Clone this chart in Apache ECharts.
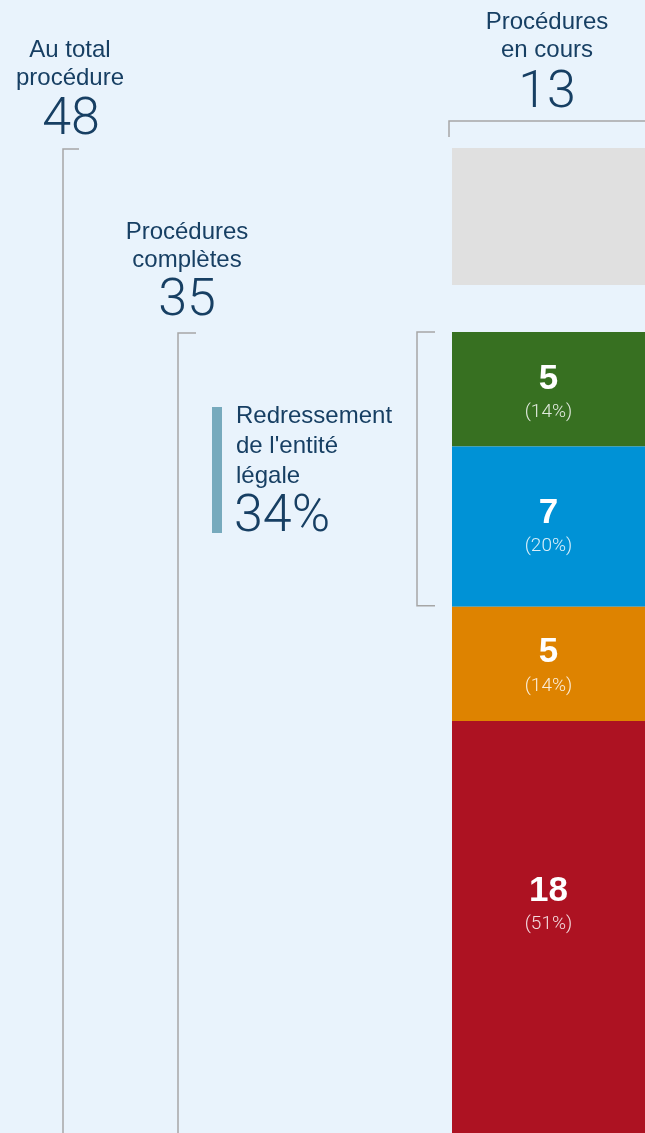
<!DOCTYPE html>
<html>
<head>
<meta charset="utf-8">
<script src="https://cdn.jsdelivr.net/npm/echarts@6/dist/echarts.min.js"></script>
<style>
  html, body { margin: 0; padding: 0; background: #e9f3fc; }
  #chart { width: 645px; height: 1133px; }
</style>
</head>
<body>
<div id="chart"></div>
<script>
// données
const totalCount = 48
const ongoingCount = 13
const completedCount = 35
const recoveryShare = '34%'
const outcomeNames = ['a', 'b', 'c', 'd']
const outcomeValues = [5, 7, 5, 18]
const outcomePct = ['14%', '20%', '14%', '51%']
const outcomeColors = ['#377021', '#0092d6', '#de8300', '#ad1222']
const recoveryGroup = 2 // les deux premiers segments

const navy = '#173f63'
const lineGray = '#a6a6a6'
const font = '"Liberation Sans", Arial, sans-serif'
const lightFont = 'Roboto, "Liberation Sans", sans-serif'

const chart = echarts.init(document.getElementById('chart'))

const labelOffsets = [[0, 3], [0, 0], [0, 2], [0, -23]]

const series = outcomeValues.map((v, i) => ({
  name: outcomeNames[i],
  type: 'bar',
  stack: 'done',
  xAxisIndex: 0,
  yAxisIndex: 0,
  barWidth: '100%',
  data: [v],
  itemStyle: { color: outcomeColors[i] },
  label: {
    show: true,
    position: 'inside',
    offset: labelOffsets[i],
    formatter: () => `{v|${v}}\n{p|(${outcomePct[i]})}`,
    rich: {
      v: { fontSize: 35, fontWeight: 'bold', color: '#fff', fontFamily: font, lineHeight: 40, align: 'center' },
      p: { fontSize: 19, fontWeight: 300, color: 'rgba(255,255,255,0.85)', fontFamily: lightFont, lineHeight: 26, align: 'center' },
    },
  },
}))

series.push({
  name: 'en cours',
  type: 'bar',
  xAxisIndex: 1,
  yAxisIndex: 1,
  barWidth: '100%',
  data: [ongoingCount],
  itemStyle: { color: '#e0e0e0' },
})

const hiddenAxis = { show: false }

chart.setOption({
  backgroundColor: '#e9f3fc',
  animation: false,
  grid: [
    { left: 452, right: 0, top: 332, height: 801 },
    { left: 452, right: 0, top: 148, height: 137 },
  ],
  xAxis: [
    { type: 'category', data: ['x'], gridIndex: 0, ...hiddenAxis },
    { type: 'category', data: ['x'], gridIndex: 1, ...hiddenAxis },
  ],
  yAxis: [
    { type: 'value', gridIndex: 0, min: 0, max: completedCount, inverse: true, ...hiddenAxis },
    { type: 'value', gridIndex: 1, min: 0, max: ongoingCount, inverse: true, ...hiddenAxis },
  ],
  series,
})

// annotations positionnées via les échelles
const yDone = v => chart.convertToPixel({ yAxisIndex: 0 }, v)
const yOngoing = v => chart.convertToPixel({ yAxisIndex: 1 }, v)

const doneTop = yDone(0)
const doneBottom = yDone(completedCount)
const groupSum = outcomeValues.slice(0, recoveryGroup).reduce((a, b) => a + b, 0)
const groupBottom = yDone(groupSum)
const ongoingTop = yOngoing(0)

const ls = { stroke: lineGray, lineWidth: 1.5, fill: null }
const poly = pts => ({ type: 'polyline', shape: { points: pts }, style: ls, silent: true })

const txt = (x, y, text, size, opts = {}) => ({
  type: 'text',
  x, y,
  style: {
    text,
    fill: navy,
    font: `${opts.weight || 'normal'} ${size}px ${opts.family || font}`,
    lineHeight: opts.lh || size * 1.2,
    align: opts.align || 'center',
    verticalAlign: 'middle',
  },
})

chart.setOption({
  graphic: [
    // crochet total
    poly([[79, ongoingTop + 1], [63, ongoingTop + 1], [63, doneBottom + 2]]),
    // crochet complètes
    poly([[196, doneTop + 1], [178, doneTop + 1], [178, doneBottom + 2]]),
    // crochet redressement
    poly([[435, doneTop], [417, doneTop], [417, groupBottom - 1], [435, groupBottom - 1]]),
    // crochet en cours
    poly([[449, 137], [449, 121], [645, 121]]),

    txt(70, 64, 'Au total\nprocédure', 24, { lh: 28 }),
    txt(71, 121, String(totalCount), 52, { weight: 300, family: lightFont }),

    txt(547, 36, 'Procédures\nen cours', 24, { lh: 28 }),
    txt(547, 94, String(ongoingCount), 52, { weight: 300, family: lightFont }),

    txt(187, 246, 'Procédures\ncomplètes', 24, { lh: 28 }),
    txt(187, 302, String(completedCount), 52, { weight: 300, family: lightFont }),

    { type: 'rect', shape: { x: 212, y: 407, width: 10, height: 126 }, style: { fill: '#77aabd' }, silent: true },
    txt(236, 446, "Redressement\nde l'entité\nlégale", 24, { align: 'left', lh: 30 }),
    txt(234, 518, recoveryShare, 52, { align: 'left', weight: 300, family: lightFont }),
  ],
})
</script>
</body>
</html>
